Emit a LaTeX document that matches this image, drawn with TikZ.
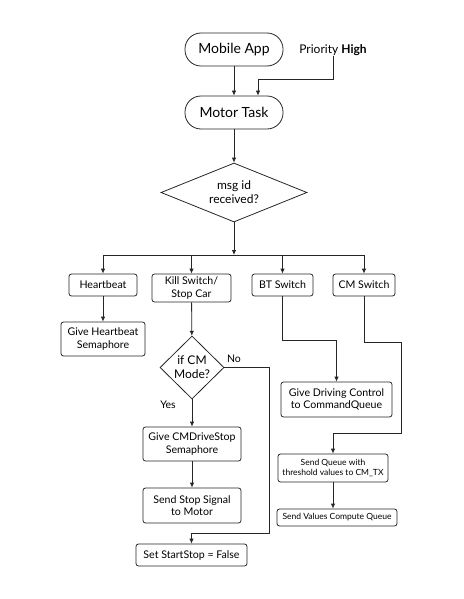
\documentclass[tikz,border=0pt]{standalone}
\usepackage{fontspec}
\setmainfont{Lato}
\usetikzlibrary{arrows.meta,shapes.geometric}
\tikzset{
  base/.style={draw=black!85, line width=0.8pt, inner sep=0pt, align=center, font=\fontsize{10.6}{12.5}\selectfont},
  stad/.style={base, rounded corners=16pt, font=\fontsize{14}{16}\selectfont},
  pbox/.style={base, rounded corners=2.5pt},
  small/.style={font=\fontsize{8.5}{10}\selectfont},
  dia/.style={base, diamond, font=\fontsize{12}{14}\selectfont},
  arr/.style={draw=black!85, line width=0.8pt, -{Latex[length=5pt,width=4.5pt]}},
  ln/.style={draw=black!85, line width=0.8pt},
  lbl/.style={inner sep=0pt, font=\fontsize{10.5}{12}\selectfont}
}
\begin{document}
\begin{tikzpicture}[x=1pt,y=-1pt]
\useasboundingbox (0,0) rectangle (463,599);
\node[stad, minimum width=98pt, minimum height=33pt] (app) at (234,49.5) {Mobile App};
\node[lbl, font=\fontsize{12}{14}\selectfont] (prio) at (333,50) {Priority \textbf{High}};
\node[stad, minimum width=98pt, minimum height=33pt] (task) at (234,112.5) {Motor Task};
\node[dia, aspect=2.5, minimum width=146pt, minimum height=59pt] (dec) at (234,192.5) {msg id\\received?};
\node[pbox, minimum width=68pt, minimum height=22pt] (hb) at (103,285) {Heartbeat};
\node[pbox, minimum width=79pt, minimum height=28pt] (kill) at (191.5,288) {Kill Switch/\\Stop Car};
\node[pbox, minimum width=61pt, minimum height=22pt] (bt) at (282.5,285) {BT Switch};
\node[pbox, minimum width=62pt, minimum height=22pt] (cm) at (364,285) {CM Switch};
\node[pbox, minimum width=84pt, minimum height=34pt] (ghb) at (103,339) {Give Heartbeat\\Semaphore};
\node[dia, aspect=1, minimum width=64pt, minimum height=63pt] (cmdec) at (192,367.5) {if CM\\Mode?};
\node[pbox, minimum width=111pt, minimum height=35pt] (gdc) at (336.5,399.5) {Give Driving Control\\to CommandQueue};
\node[pbox, minimum width=98pt, minimum height=34pt] (cmds) at (192,444) {Give CMDriveStop\\Semaphore};
\node[pbox, minimum width=98pt, minimum height=35pt] (sss) at (192,505.5) {Send Stop Signal\\to Motor};
\node[pbox, minimum width=111pt, minimum height=22pt] (ss) at (191.5,555) {Set StartStop = False};
\node[pbox, small, minimum width=110pt, minimum height=28pt] (sq) at (333,468) {Send Queue with\\threshold values to CM\_TX};
\node[pbox, small, minimum width=120pt, minimum height=17pt] (sv) at (337,517.5) {Send Values Compute Queue};
\node[lbl] (no) at (234,359) {No};
\node[lbl] (yes) at (168,405) {Yes};
% connectors
\draw[arr] (app) -- (task);
\coordinate (pbend) at (258,79);
\draw[arr] (prio.south) |- (pbend) -- (pbend |- task.north);
\draw[arr] (task) -- (dec);
\coordinate (bus) at (234,255);
\draw[arr] (dec.south) -- (bus);
\draw[ln] (hb.north |- bus) -- (cm.north |- bus);
\draw[arr] (hb.north |- bus) -- (hb.north);
\draw[arr] (kill.north |- bus) -- (kill.north);
\draw[arr] (bt.north |- bus) -- (bt.north);
\draw[arr] (cm.north |- bus) -- (cm.north);
\draw[arr] (hb) -- (ghb);
\draw[arr] (kill) -- (cmdec);
\coordinate (nocorner) at (269,533);
\draw[arr] (cmdec.east) -| (nocorner) -| (ss.north);
\draw[arr] (cmdec) -- (cmds);
\draw[arr] (cmds) -- (sss);
\draw[arr] (bt.south) -- ++(0,44) -| (gdc.north);
\draw[arr] (cm.south) -- ++(0,46) -- ++(37,0) -- ++(0,91) -| (sq.north);
\draw[arr] (sq.south) -- (sq.south |- sv.north);
\end{tikzpicture}
\end{document}
